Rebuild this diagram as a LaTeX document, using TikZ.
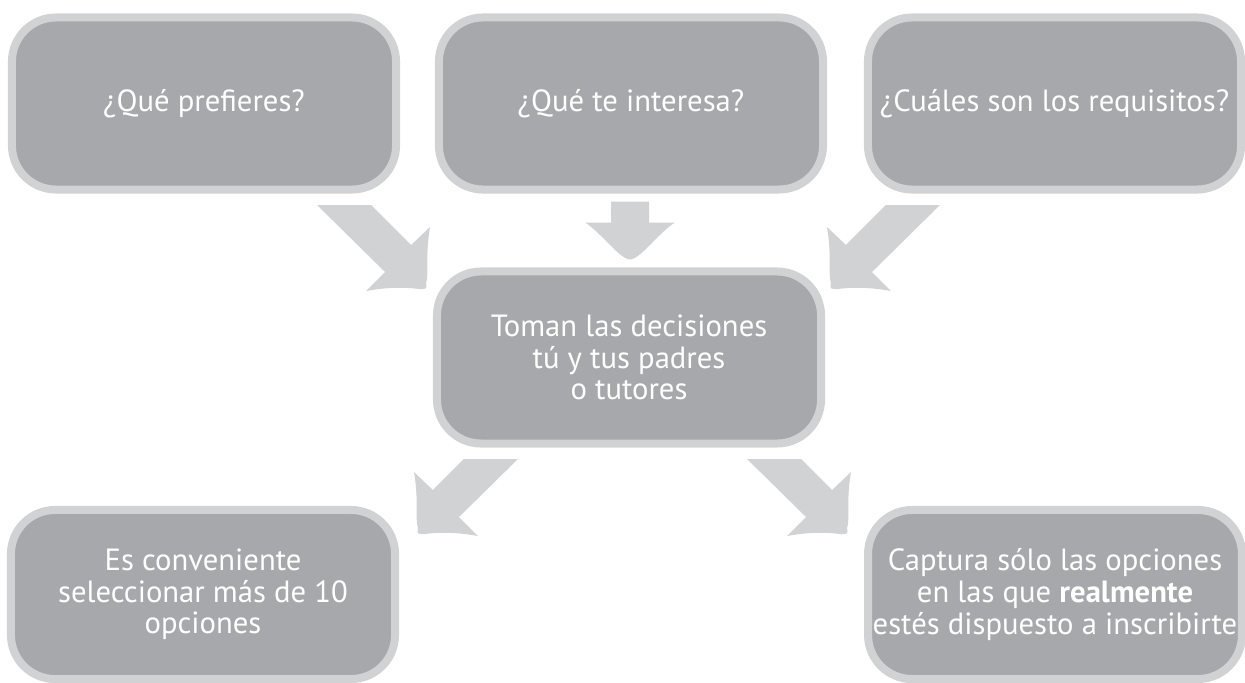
\documentclass[tikz,border=0pt]{standalone}
\usepackage{fontspec}
\setmainfont{PT Sans}
\usetikzlibrary{calc}

\definecolor{cajafondo}{HTML}{A7A8AB}
\definecolor{cajaborde}{HTML}{D1D2D4}

\begin{document}
\begin{tikzpicture}[x=0.025cm, y=-0.025cm]
 % Estilos de bloques y flechas
	\tikzstyle{caja} = [rectangle, draw=cajaborde, line width=0.2cm, fill=cajafondo, rounded corners=1.1cm, minimum width=9.6cm, minimum height=4.3cm, align=center, text=white, font=\fontsize{21.8}{22.5}\selectfont]
	\tikzstyle{flecha} = [fill=cajaborde]
	\tikzset{pics/bajada/.style={code={
		\fill[flecha] (-19,-29) -- (19,-29) -- (19,-8) -- (45,-8) .. controls (30,1) and (10,29) .. (0,29) .. controls (-10,29) and (-30,1) .. (-45,-8) -- (-19,-8) -- cycle;}},
	pics/diagonal/.style={code={
		\fill[flecha] (0,0) -- (54,0) -- (54+#1,#1) -- (73+#1,#1-18) .. controls (68+#1,#1+10) and (72+#1,#1+30) .. (69+#1,#1+38) .. controls (70+#1,#1+44) .. (62+#1,#1+44) .. controls (40+#1,#1+41) and (20+#1,#1+44) .. (9+#1,#1+46) -- (28+#1,#1+27) -- cycle;}}}
	\useasboundingbox (0,0) rectangle (1245,683);
%%====Cajas===============================================================
	\node	[caja]	(prefieres)	at (204,103.5)	{¿Qué prefieres?};
	\node	[caja]	(interesa)	at (631,103.5)	{¿Qué te interesa?};
	\node	[caja, minimum width=9.325cm]	(requisitos)	at (1054.5,103.5)	{¿Cuáles son los requisitos?};
	\node	[caja]	(decision)	at (629,357.5)	{Toman las decisiones\\tú y tus padres\\o tutores};
	\node	[caja, minimum height=4.225cm]	(conveniente)	at (203,594.5)	{Es conveniente\\seleccionar más de 10\\opciones};
	\node	[caja, minimum width=9.3cm, minimum height=4.225cm]	(captura)	at (1055,594.5)	{Captura sólo las opciones\\en las que \textbf{realmente}\\estés dispuesto a inscribirte};
%%====Flechas===============================================================
	\pic at ($(interesa.south)!0.5!(decision.north)$) {bajada};
	\pic at ($(prefieres.south east)+(-83,11.5)$) {diagonal=40};
	\pic[xscale=-1] at ($(requisitos.south west)+(76,11.5)$) {diagonal=40};
	\pic[xscale=-1] at ($(decision.south west)+(85,11.5)$) {diagonal=31};
	\pic at ($(decision.south east)+(-78,11.5)$) {diagonal=31};
\end{tikzpicture}
\end{document}
